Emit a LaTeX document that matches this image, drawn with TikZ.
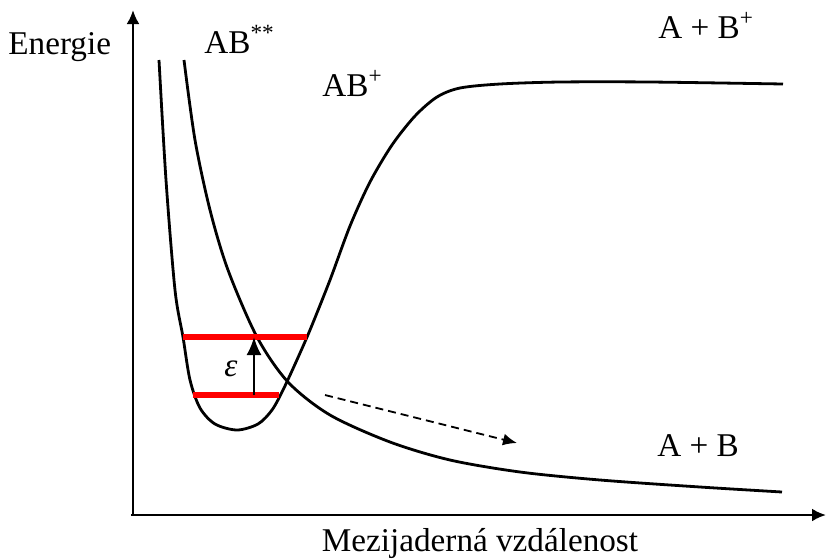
\documentclass[tikz,border=0pt]{standalone}
\usepackage{fontspec}
\setmainfont{Liberation Serif}
\usetikzlibrary{arrows.meta, calc}

\begin{document}
\begin{tikzpicture}[
    x=0.5pt, y=-0.5pt,
    every node/.style={font=\fontsize{16.6}{19}\selectfont, inner sep=0pt},
    axis/.style={line width=1.3pt, -{Latex[length=7pt,width=6.5pt]}},
    curve/.style={line width=1.4pt, line join=round, smooth, tension=0.5},
    level/.style={line width=2.8pt, draw=red},
    excite/.style={line width=1.1pt, -{Latex[length=9pt,width=7.5pt]}},
    drift/.style={line width=0.9pt, dash pattern=on 4pt off 2.5pt,
        -{Latex[length=7pt,width=6pt]}},
]
\useasboundingbox (0,0) rectangle (826,559);

% === AXES ===
\coordinate (origin) at (133,515);
\coordinate (ytop) at (133,10);
\coordinate (xend) at (826,515);
\draw[axis] (origin) -- (ytop);
\draw[axis] ($(origin)+(-2,0)$) -- (xend);

\node[anchor=base west] (energie) at (8,54) {Energie};
\node[anchor=base] (dist) at (480,551) {Mezijaderná vzdálenost};

% === POTENTIAL CURVES ===
% bound state AB+ (well, then plateau A + B+)
\draw[curve] plot coordinates {
    (159,60) (166,180) (175,290) (183,337) (190,380) (200,408) (215,424)
    (237,430) (258,424) (272,410) (283,390) (296,362) (310,330) (330,280)
    (350,226) (370,182) (392,145) (415,116) (437,97) (460,88) (500,84)
    (560,82) (650,82) (783,84)};
% repulsive state AB** (down to A + B)
\draw[curve] plot coordinates {
    (184,60) (195,140) (210,210) (228,270) (257,337) (288,382) (330,415)
    (390,442) (450,460) (520,472) (600,480) (700,487) (782,492)};

\node[anchor=base west] (abss) at (204,53) {AB\textsuperscript{**}};
\node[anchor=base west] (abp) at (322,96) {AB\textsuperscript{+}};
\node[anchor=base west] (abplus) at (658,38) {A + B\textsuperscript{+}};
\node[anchor=base west] (ab) at (657,456) {A + B};

% === VIBRATIONAL LEVELS ===
\draw[level] (183,337) -- (307,337);
\draw[level] (193,395) -- (279,395);

% excitation
\coordinate (lo) at (254,395);
\coordinate (hi) at (254,337);
\draw[excite] (lo) -- (hi);
\node (eps) at (231,369) {\itshape ε};

% dissociation
\coordinate (dstart) at (325,395);
\coordinate (dend) at (517,443);
\draw[drift] (dstart) -- (dend);
\end{tikzpicture}
\end{document}
